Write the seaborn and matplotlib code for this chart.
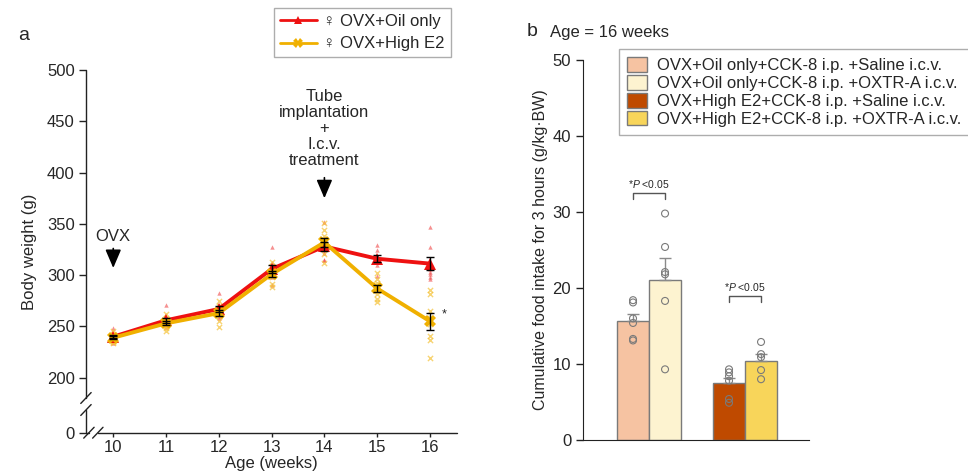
import numpy as np
import pandas as pd
import seaborn as sns
import matplotlib.pyplot as plt
from matplotlib.patches import Patch
from matplotlib.lines import Line2D

sns.set_style("ticks")
plt.rcParams["font.family"] = ["Liberation Sans", "DejaVu Sans"]
plt.rcParams["mathtext.fontset"] = "custom"
plt.rcParams["mathtext.it"] = "Liberation Sans:italic"
plt.rcParams["mathtext.rm"] = "Liberation Sans"

# ---- panel a: body weight (g) of each animal per age ----
ages = [10, 11, 12, 13, 14, 15, 16]
groups_a = ["\u2640 OVX+Oil only", "\u2640 OVX+High E2"]
oil_weights = [
    [248, 244, 242, 240, 239, 237, 236, 234],
    [271, 259, 257, 255, 254, 252, 251, 249],
    [283, 271, 269, 267, 265, 263, 258, 260],
    [327, 312, 309, 306, 304, 302, 298, 290],
    [352, 336, 331, 328, 325, 322, 315, 315],
    [329, 325, 319, 317, 316, 313, 310, 299],
    [347, 327, 312, 306, 303, 301, 298, 296],
]
e2_weights = [
    [246, 243, 241, 239, 238, 236, 234, 235],
    [262, 258, 255, 253, 252, 250, 248, 246],
    [275, 270, 267, 265, 263, 260, 255, 249],
    [313, 309, 306, 303, 300, 298, 291, 288],
    [351, 344, 338, 334, 330, 326, 321, 312],
    [302, 296, 292, 288, 285, 282, 277, 274],
    [286, 282, 265, 258, 252, 241, 237, 219],
]

# ---- panel b: cumulative food intake (g/kg BW), age 16 weeks ----
groups_b = ["OVX+Oil only", "OVX+High E2"]
treatments = ["Saline i.c.v.", "OXTR-A i.c.v."]
intake_oil_saline = [18.4, 18.1, 16.0, 15.4, 13.3, 13.1]
intake_oil_oxtr = [29.8, 25.4, 22.1, 21.8, 18.3, 9.3]
intake_e2_saline = [9.3, 8.9, 8.4, 7.8, 5.4, 4.9]
intake_e2_oxtr = [12.9, 11.3, 10.9, 9.2, 8.0]
legend_b = [
    "OVX+Oil only+CCK-8 i.p. +Saline i.c.v.",
    "OVX+Oil only+CCK-8 i.p. +OXTR-A i.c.v.",
    "OVX+High E2+CCK-8 i.p. +Saline i.c.v.",
    "OVX+High E2+CCK-8 i.p. +OXTR-A i.c.v.",
]
bar_colors = ["#f6c3a2", "#fdf3d0", "#bf4a00", "#f8d55a"]

red = "#ee1111"
yellow = "#f0b000"
FS = 12

rows = []
for g, table in zip(groups_a, [oil_weights, e2_weights]):
    for age, vals in zip(ages, table):
        for v in vals:
            rows.append((g, age, v))
df_a = pd.DataFrame(rows, columns=["group", "age", "weight"])

rows = []
for g, tr, vals in [(groups_b[0], treatments[0], intake_oil_saline),
                    (groups_b[0], treatments[1], intake_oil_oxtr),
                    (groups_b[1], treatments[0], intake_e2_saline),
                    (groups_b[1], treatments[1], intake_e2_oxtr)]:
    for v in vals:
        rows.append((g, tr, v))
df_b = pd.DataFrame(rows, columns=["group", "treatment", "intake"])

fig = plt.figure(figsize=(9.68, 4.74), dpi=100)

# ================= panel a =================
ax1 = fig.add_axes([0.0888, 0.0871, 0.3830, 0.7652])
k = 0.268  # compression of the 0-200 part below the break


def fwd(y):
    y = np.asarray(y, dtype=float)
    return np.where(y >= 200, y, 200 - (200 - y) * k)


def inv(y):
    y = np.asarray(y, dtype=float)
    return np.where(y >= 200, y, 200 - (200 - y) / k)


ax1.set_yscale("function", functions=(fwd, inv))

sns.scatterplot(data=df_a[df_a.group == groups_a[0]], x="age", y="weight",
                marker="^", color="#f04848", s=10, alpha=0.6, linewidth=0,
                ax=ax1, zorder=1, legend=False)
sns.scatterplot(data=df_a[df_a.group == groups_a[1]], x="age", y="weight",
                marker="x", color="#f5c238", s=14, alpha=0.7, linewidth=1,
                ax=ax1, zorder=1, legend=False)
sns.lineplot(data=df_a, x="age", y="weight", hue="group", style="group",
             hue_order=groups_a, palette=[red, yellow],
             markers={groups_a[0]: "^", groups_a[1]: "X"}, dashes=False,
             markersize=8, markeredgewidth=0, errorbar=None, lw=2.8,
             ax=ax1, legend=False, zorder=3)
stats = df_a.groupby(["group", "age"])["weight"].agg(["mean", "sem"]).reset_index()
ax1.errorbar(stats["age"], stats["mean"], yerr=stats["sem"], fmt="none",
             ecolor="black", elinewidth=1, capsize=3, capthick=1, zorder=4)

ax1.set_xlim(9.483, 16.506)
ax1.set_ylim(0, 500)
ax1.set_xticks(ages)
ax1.set_yticks([0, 200, 250, 300, 350, 400, 450, 500])
ax1.tick_params(labelsize=FS, width=1, color="#222222")
ax1.tick_params(axis="x", length=3, pad=2)
ax1.tick_params(axis="y", length=5, pad=3)
ax1.set_xlabel("Age (weeks)", fontsize=FS, labelpad=1)
ax1.set_ylabel("Body weight (g)", fontsize=FS, labelpad=7)
for s in ["top", "right", "left", "bottom"]:
    ax1.spines[s].set_visible(False)

# broken spines drawn by hand
sp = dict(color="#222222", lw=1, clip_on=False, transform=ax1.transAxes)
f1, f2 = 0.0957, 0.0626
g1, g2 = 0.008, 0.032
ax1.plot([0, 0], [f1, 1], **sp)
ax1.plot([0, 0], [0, f2], **sp)
ax1.plot([0, g1], [0, 0], **sp)
ax1.plot([g2, 1], [0, 0], **sp)
dx, dy = 0.014, 0.015
for f in (f1, f2):
    ax1.plot([-dx, dx], [f - dy, f + dy], **sp)
for g in (g1, g2):
    ax1.plot([g - dx, g + dx], [-dy, dy], **sp)

arrow = dict(arrowstyle="-|>,head_width=0.3,head_length=0.7", color="black",
             lw=1.2, mutation_scale=16, shrinkA=0, shrinkB=0)
ax1.text(10, 338, "OVX", ha="center", va="center", fontsize=FS)
ax1.annotate("", xy=(10, 307), xytext=(10, 326), arrowprops=arrow)
ax1.text(14, 443, "Tube\nimplantation\n+\nI.c.v.\ntreatment", ha="center",
         va="center", fontsize=FS, linespacing=1.1)
ax1.annotate("", xy=(14, 375), xytext=(14, 395), arrowprops=arrow)
ax1.text(16.27, 262, "*", ha="center", va="center", fontsize=9)

handles_a = [
    Line2D([], [], color=red, marker="^", lw=2, ms=6, mew=0),
    Line2D([], [], color=yellow, marker="X", lw=2, ms=7, mew=0),
]
fig.legend(handles_a, groups_a, loc="upper left",
           bbox_to_anchor=(274 / 968, 1 - 8 / 474), borderaxespad=0,
           fontsize=FS, frameon=True, fancybox=False, edgecolor="#999999",
           handlelength=2.2, handletextpad=0.4, borderpad=0.35,
           labelspacing=0.45)
fig.text(18 / 968, 1 - 35 / 474, "a", fontsize=14, va="center")

# ================= panel b =================
ax2 = fig.add_axes([0.6023, 0.0717, 0.2335, 0.8017])
sns.barplot(data=df_b, x="group", y="intake", hue="treatment", order=groups_b,
            hue_order=treatments, palette=bar_colors[:2], errorbar=None,
            width=0.667, edgecolor="#7a7a7a", linewidth=1, ax=ax2,
            legend=False, zorder=2)
centers = {}
for ti, cont in enumerate(ax2.containers):
    for gi, bar in enumerate(cont):
        bar.set_facecolor(bar_colors[gi * 2 + ti])
        centers[(groups_b[gi], treatments[ti])] = bar.get_x() + bar.get_width() / 2

st_b = df_b.groupby(["group", "treatment"])["intake"].agg(["mean", "sem"])
for key, xc in centers.items():
    m, se = st_b.loc[key, "mean"], st_b.loc[key, "sem"]
    ax2.errorbar([xc], [m], yerr=[[0], [se]], fmt="none", ecolor="#8a8a8a",
                 elinewidth=1, capsize=4, capthick=1, zorder=3)

n_before = len(ax2.collections)
sns.stripplot(data=df_b, x="group", y="intake", hue="treatment",
              order=groups_b, hue_order=treatments, dodge=True, jitter=False,
              palette=["white", "white"], edgecolor="#7a7a7a", linewidth=0.8,
              size=5, ax=ax2, legend=False, zorder=5)
cx = sorted(centers.values())
for coll in ax2.collections[n_before:]:
    coll.set_facecolor("none")
    off = coll.get_offsets()
    if len(off):
        off[:, 0] = [min(cx, key=lambda c: abs(c - x)) for x in off[:, 0]]
        coll.set_offsets(off)

# significance brackets
for (a_key, b_key), y0 in [(((groups_b[0], treatments[0]), (groups_b[0], treatments[1])), 31.7),
                           (((groups_b[1], treatments[0]), (groups_b[1], treatments[1])), 18.2)]:
    x1, x2 = centers[a_key], centers[b_key]
    ax2.plot([x1, x1, x2, x2], [y0, y0 + 0.8, y0 + 0.8, y0], color="#555555", lw=1)
    ax2.text((x1 + x2) / 2, y0 + 1.2, r"*$\it{P}$ <0.05", ha="center",
             va="bottom", fontsize=7.5)

ax2.set_xlim(-0.6875, 1.667)
ax2.set_ylim(0, 50)
ax2.set_yticks([0, 10, 20, 30, 40, 50])
ax2.set_xticks([])
ax2.set_xlabel("")
ax2.set_ylabel("Cumulative food intake for 3 hours (g/kg\u00b7BW)", fontsize=11.5,
               labelpad=3)
ax2.tick_params(labelsize=FS, length=5, width=1, color="#222222")
sns.despine(ax=ax2)
ax2.spines["left"].set_color("#222222")
ax2.spines["bottom"].set_color("#222222")

handles_b = [Patch(facecolor=c, edgecolor="#7a7a7a") for c in bar_colors]
fig.legend(handles_b, legend_b, loc="upper left",
           bbox_to_anchor=(619 / 968, 1 - 49 / 474), borderaxespad=0,
           fontsize=FS, frameon=True, fancybox=False, edgecolor="#999999",
           handlelength=1.2, handleheight=0.95, labelspacing=0.12,
           borderpad=0.5, handletextpad=0.6)
fig.text(527 / 968, 1 - 32 / 474, "b", fontsize=14, va="center")
fig.text(550 / 968, 1 - 32 / 474, "Age = 16 weeks", fontsize=FS, va="center")

fig.savefig("out.png", dpi=100)
plt.close(fig)
